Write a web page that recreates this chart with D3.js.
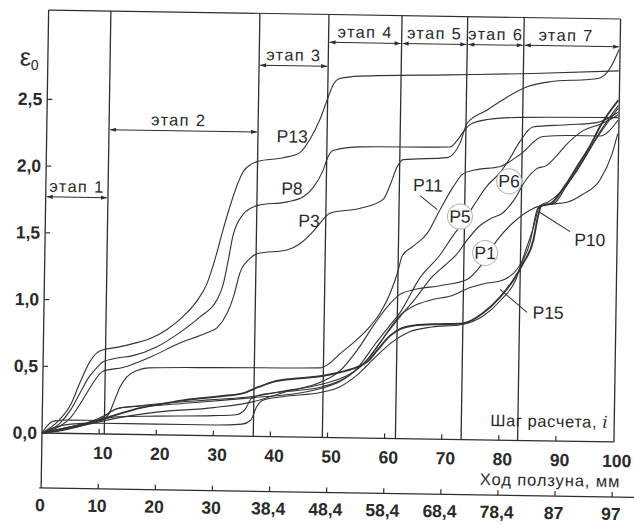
<!DOCTYPE html>
<html><head><meta charset="utf-8">
<script src="https://cdn.jsdelivr.net/npm/d3@7"></script>
<style>
body{margin:0;background:#fff}
text{font-family:"Liberation Sans",Arial,sans-serif;fill:#2a2a2a}
</style></head>
<body><svg id="c" width="634" height="525"></svg>
<script>
// ---------- data ----------
const stepTicks = [0,10,20,30,40,50,60,70,80,90,100];
const stepLabels = ["","10","20","30","40","50","60","70","80","90","100"];
const mmLabels = ["0","10","20","30","38,4","48,4","58,4","68,4","78,4","87","97"];
const yTicks = [0,0.5,1,1.5,2,2.5];
const yTickLabels = ["0,0","0,5","1,0","1,5","2,0","2,5"];
const stageBounds = [0,10.9,37,49.1,61.9,73.4,83.3,100];
const stageNames = ["этап 1","этап 2","этап 3","этап 4","этап 5","этап 6","этап 7"];

const P13 = [[0,0],[3,0.1],[5,0.22],[6.5,0.38],[8.2,0.54],[9.5,0.61],[10.5,0.63],[12.9,0.65],[15.7,0.68],[18.7,0.72],[21.6,0.79],[24.4,0.89],[26.8,1.01],[28.5,1.14],[30,1.35],[31,1.52],[32.3,1.72],[33.5,1.88],[34.5,1.98],[36,2.04],[37.1,2.06],[41.5,2.09],[44.4,2.13],[46.1,2.23],[47.8,2.38],[49.2,2.55],[50,2.64],[51.2,2.69],[54.7,2.71],[70,2.73],[85,2.75],[100,2.78]];
const P8 = [[0,0],[3,0.07],[5,0.18],[6.5,0.3],[8,0.42],[9.5,0.5],[10.5,0.54],[13,0.57],[15.7,0.59],[19.9,0.66],[23.9,0.77],[27.4,0.89],[30.3,1.02],[31.3,1.13],[32.2,1.33],[32.9,1.5],[34.6,1.66],[36,1.71],[37.2,1.73],[42.3,1.76],[45.1,1.8],[46.8,1.87],[48.5,2.0],[49.3,2.1],[50.2,2.15],[54.9,2.18],[70.7,2.19],[71.9,2.24],[73.2,2.32],[74.1,2.36],[77.1,2.4],[82.8,2.42],[100,2.43]];
const P3 = [[0,0],[3,0.05],[5,0.12],[7,0.25],[8.5,0.36],[10.5,0.47],[14,0.5],[18.7,0.58],[23.9,0.69],[28.6,0.77],[30.4,0.81],[32.1,0.92],[33.2,1.05],[34.2,1.22],[35.9,1.33],[37.3,1.37],[42.4,1.4],[44.7,1.45],[46.9,1.54],[48.6,1.63],[49.8,1.68],[55.1,1.72],[59.1,1.79],[60.3,1.9],[61.4,2.03],[62.5,2.09],[70.2,2.11],[72.4,2.22],[73.6,2.37],[77,2.47],[80.5,2.57],[84,2.65],[88,2.69],[94,2.71],[96.4,2.72],[98.5,2.8],[100,2.94]];
const P11 = [[0,0],[1,0.06],[2,0.09],[5,0.1],[10,0.1],[11.5,0.14],[12.5,0.24],[13.5,0.35],[14.7,0.43],[16.5,0.48],[18.5,0.5],[30,0.51],[48.5,0.52],[50,0.55],[52,0.63],[54.2,0.71],[56.6,0.81],[58.9,0.94],[60.6,1.09],[61.8,1.24],[62.6,1.37],[64.4,1.44],[66.9,1.54],[69.1,1.72],[71.3,1.89],[73,1.99],[75,2.02],[79.5,2.05],[82.9,2.14],[86.9,2.28],[92,2.29],[96.9,2.29],[100,2.41]];
const P5 = [[0,0],[4,0.04],[8,0.08],[10.5,0.12],[12,0.17],[14,0.2],[20,0.22],[30,0.26],[37,0.29],[45,0.33],[49,0.37],[52,0.42],[55,0.52],[58,0.7],[60.5,0.84],[62.3,0.94],[65.8,1.21],[69.2,1.38],[71.5,1.53],[73.2,1.63],[74.9,1.75],[77.2,1.9],[79.4,2.0],[81,2.1],[82.9,2.24],[85.1,2.35],[91.1,2.37],[96.3,2.39],[100,2.47]];
const P6 = [[0,0],[3,0.03],[7,0.07],[10,0.1],[13,0.13],[20,0.14],[30,0.15],[34,0.16],[35.5,0.2],[36.5,0.28],[38,0.31],[45,0.35],[49,0.38],[53,0.45],[57,0.6],[60,0.78],[62.5,0.92],[65,1.05],[68,1.22],[70,1.3],[72,1.38],[74,1.5],[76,1.6],[78,1.66],[80,1.7],[82,1.8],[84,1.95],[86,2.04],[87.5,2.06],[89,2.12],[91,2.22],[94,2.33],[97,2.38],[100,2.45]];
const P1 = [[0,0],[3,0.02],[6,0.05],[10,0.09],[13,0.12],[20,0.17],[30,0.21],[37,0.26],[42,0.33],[49,0.42],[52,0.5],[55,0.66],[58,0.86],[60,0.98],[62.3,1.08],[65,1.12],[69.3,1.15],[74,1.2],[76.3,1.3],[79.2,1.5],[81.9,1.63],[85.4,1.74],[88,1.77],[91.3,1.79],[94,1.85],[97,1.96],[99,2.15],[100,2.31]];
const P10 = [[0,0],[3,0.03],[6,0.06],[9,0.1],[11,0.14],[13,0.19],[16,0.21],[22,0.24],[30,0.27],[37,0.3],[42,0.34],[49,0.4],[53,0.46],[56,0.55],[59,0.72],[62.3,0.92],[65,1.0],[67.6,1.04],[71.6,1.08],[74.6,1.14],[77,1.17],[80.3,1.2],[82.7,1.28],[84.9,1.48],[86.2,1.74],[87.5,1.77],[89,1.78],[91,1.9],[93,2.04],[95,2.18],[97,2.33],[100,2.52]];
const P15 = [[0,0],[3,0.02],[6,0.05],[10.5,0.11],[14,0.16],[17.2,0.2],[22,0.24],[26,0.27],[32,0.3],[35,0.32],[37.8,0.37],[40.3,0.41],[45,0.44],[48.9,0.46],[52,0.49],[55,0.53],[57,0.58],[58.5,0.66],[60.7,0.77],[62.4,0.82],[65,0.85],[68,0.86],[73.4,0.87],[76.9,0.95],[79.8,1.07],[82.1,1.2],[83.8,1.33],[85.5,1.5],[86.3,1.69],[86.8,1.76],[88.5,1.78],[91,1.92],[93,2.06],[95,2.2],[97,2.37],[100,2.56]];
const Pext = [[0,0],[2,0.04],[5,0.07],[10,0.08],[20,0.08],[30,0.08],[35,0.09],[36.5,0.12],[37.5,0.22],[38.5,0.27],[42,0.3],[49,0.34],[52,0.38],[55,0.47],[58,0.6],[61,0.72],[64,0.8],[68,0.84],[73,0.86],[77,0.93],[80,1.05],[82.5,1.2],[84,1.4],[85.5,1.6],[86.5,1.76],[88,1.79],[90,1.86],[93,2.03],[96,2.25],[100,2.5]];

const seriesList = [P13,P8,P3,P11,P5,P6,P1,P10,Pext,P15];
const thickSeries = [P15];

// labels: [text, i, value, circled]
const pointLabels = [["P13",43,2.25,false],["P8",43.1,1.86,false],["P3",46.2,1.62,false],["P11",66.9,1.9,false],
  ["P5",72.6,1.67,true],["P6",81.1,1.94,true],["P1",77.1,1.40,true],["P10",95.4,1.51,false],["P15",88.3,0.96,false]];
const leaders = [[65.6,1.82,68.6,1.72],[86.6,1.71,91.9,1.57],[79.8,1.13,84.6,0.96]];
const stageArrowLevels = [1.77,2.28,2.78,2.96,2.96,2.96,2.96];

// ---------- drawing ----------
const svg = d3.select("#c");
svg.append("rect").attr("width",634).attr("height",525).attr("fill","#fff");
const g = svg.append("g").attr("transform","rotate(0.9,43,433)");

const x = d3.scaleLinear().domain([0,100]).range([42,613]);
const y = d3.scaleLinear().domain([0,2.5]).range([433,99.25]);
const topY = 10, xAxisY = 433, mmY = 488, rightX = 614;
const ink = "#2e2e2e";

const defs = svg.append("defs");
defs.append("marker").attr("id","ah").attr("viewBox","0 0 10 10").attr("refX",10).attr("refY",5)
  .attr("markerWidth",7).attr("markerHeight",6).attr("orient","auto-start-reverse").attr("markerUnits","userSpaceOnUse")
  .append("path").attr("d","M0,1.5 L10,5 L0,8.5 Z").attr("fill",ink);

// frame
g.append("line").attr("x1",x(0)).attr("x2",x(0)).attr("y1",topY).attr("y2",mmY).attr("stroke",ink).attr("stroke-width",1.3);
g.append("line").attr("x1",x(0)).attr("x2",rightX).attr("y1",topY).attr("y2",topY).attr("stroke",ink).attr("stroke-width",1.2);
g.append("line").attr("x1",rightX).attr("x2",rightX).attr("y1",topY).attr("y2",xAxisY).attr("stroke",ink).attr("stroke-width",1.3);
g.append("line").attr("x1",x(0)).attr("x2",rightX).attr("y1",xAxisY).attr("y2",xAxisY).attr("stroke",ink).attr("stroke-width",1.3);
g.append("line").attr("x1",40).attr("x2",640).attr("y1",mmY).attr("y2",mmY).attr("stroke",ink).attr("stroke-width",1.3);

// y ticks
yTicks.forEach((t,k)=>{
  g.append("line").attr("x1",x(0)).attr("x2",x(0)+5).attr("y1",y(t)).attr("y2",y(t)).attr("stroke",ink).attr("stroke-width",1.2);
  g.append("text").attr("x",37).attr("y",y(t)+6).attr("text-anchor","end").attr("font-size",17.5).attr("font-weight","bold").text(yTickLabels[k]);
});
const eps = g.append("text").attr("x",14).attr("y",66).attr("font-size",25).attr("font-family","'DejaVu Serif',serif");
eps.append("tspan").text("ε");
eps.append("tspan").attr("font-size",14).attr("dy",4).attr("font-family","'Liberation Sans',Arial").text("0");

stepTicks.forEach((t,k)=>{
  if(k>0 && k<stepTicks.length-1) g.append("line").attr("x1",x(t)).attr("x2",x(t)).attr("y1",xAxisY).attr("y2",xAxisY-5).attr("stroke",ink).attr("stroke-width",1.2);
  if(k>0) g.append("line").attr("x1",x(t)).attr("x2",x(t)).attr("y1",mmY).attr("y2",mmY-5).attr("stroke",ink).attr("stroke-width",1.2);
  if(stepLabels[k]) g.append("text").attr("x",x(t)+4).attr("y",458).attr("text-anchor","middle").attr("font-size",17.5).attr("font-weight","bold").text(stepLabels[k]);
  g.append("text").attr("x",x(t)-1).attr("y",511).attr("text-anchor","middle").attr("font-size",17.5).attr("font-weight","bold").text(mmLabels[k]);
});
const t1 = g.append("text").attr("x",608).attr("y",419).attr("text-anchor","end").attr("font-size",16.5).attr("letter-spacing",0.6);
t1.append("tspan").text("Шаг расчета, ");
t1.append("tspan").attr("font-style","italic").attr("font-family","'DejaVu Serif',serif").text("i");
g.append("text").attr("x",621).attr("y",478).attr("text-anchor","end").attr("font-size",16.5).attr("letter-spacing",0.9).text("Ход ползуна, мм");

stageBounds.slice(1,-1).forEach(s=>{
  g.append("line").attr("x1",x(s)).attr("x2",x(s)).attr("y1",topY).attr("y2",xAxisY).attr("stroke",ink).attr("stroke-width",1.3);
});
stageNames.forEach((nm,k)=>{
  const a = stageBounds[k], b = stageBounds[k+1], lv = y(stageArrowLevels[k]);
  const x1 = (k===0? x(0): x(a)) + 1, x2 = (k===6? rightX : x(b)) - 1;
  g.append("line").attr("x1",x1).attr("x2",x2).attr("y1",lv).attr("y2",lv).attr("stroke",ink).attr("stroke-width",1)
    .attr("marker-start","url(#ah)").attr("marker-end","url(#ah)");
  g.append("text").attr("x",(x1+x2)/2 - (k===6?6:0) - (k===1?5:0)).attr("y",lv-5).attr("text-anchor","middle").attr("font-size",16.5).attr("letter-spacing",1.3).text(nm);
});

const line = d3.line().x(d=>x(d[0])).y(d=>y(d[1])).curve(d3.curveMonotoneX);
g.append("g").selectAll("path").data(seriesList).join("path")
  .attr("d",line).attr("fill","none").attr("stroke","#333")
  .attr("stroke-width",d=>thickSeries.includes(d)?1.9:1.1);

leaders.forEach(l=>{
  g.append("line").attr("x1",x(l[0])).attr("y1",y(l[1])).attr("x2",x(l[2])).attr("y2",y(l[3])).attr("stroke",ink).attr("stroke-width",1);
});
pointLabels.forEach(p=>{
  const cx = x(p[1]), cy = y(p[2]);
  if(p[3]) g.append("circle").attr("cx",cx).attr("cy",cy).attr("r",12.5).attr("fill","#fff").attr("stroke","#b5b5b5").attr("stroke-width",1);
  g.append("text").attr("x",cx).attr("y",cy+6).attr("text-anchor","middle").attr("font-size",17.5).text(p[0]);
});
</script></body></html>
